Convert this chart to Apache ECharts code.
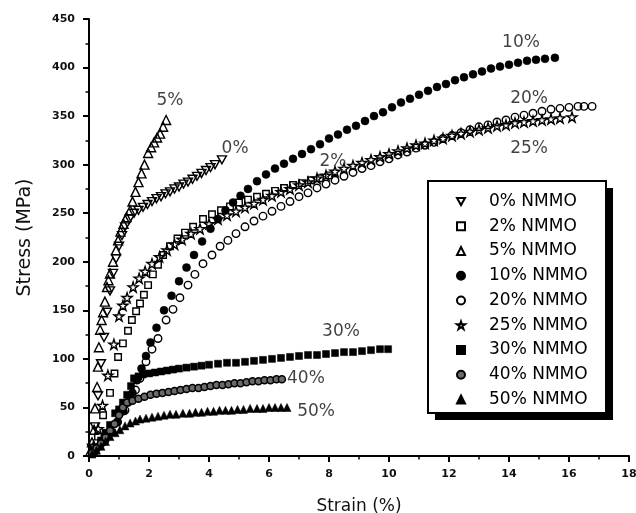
<!DOCTYPE html>
<html>
<head>
<meta charset="utf-8">
<script src="https://cdn.jsdelivr.net/npm/echarts@6/dist/echarts.min.js"></script>
<style>
  html, body { margin: 0; padding: 0; background: #fff; }
  #chart { width: 636px; height: 513px; }
</style>
</head>
<body>
<div id="chart"></div>
<script>
// Stress–strain curves of films with different NMMO contents
const strain0 = [0.1,0.2,0.3,0.4,0.5,0.6,0.7,0.8,0.9,1.0,1.1,1.2,1.35,1.5,1.65,1.8,1.95,2.1,2.25,2.4,2.55,2.7,2.85,3.0,3.15,3.3,3.45,3.6,3.75,3.9,4.05,4.2,4.43];
const stress0 = [8,30,62,95,122,148,170,188,203,216,227,236,244,250,253,256,259,262,265,267,270,272,275,277,280,282,285,288,291,294,297,300,305];

const strain2 = [0.15,0.3,0.47,0.7,0.85,0.97,1.13,1.3,1.43,1.57,1.7,1.83,1.97,2.13,2.3,2.47,2.7,2.95,3.2,3.47,3.8,4.1,4.4,4.7,5.0,5.3,5.6,5.9,6.2,6.5,6.8,7.1,7.4,7.7,8.0];
const stress2 = [5,20,42,65,85,102,116,129,140,149,157,166,176,187,197,207,216,224,230,236,244,249,253,257,261,264,267,270,273,276,279,281,284,286,289];

const strain5 = [0.05,0.1,0.17,0.2,0.27,0.3,0.33,0.37,0.42,0.47,0.53,0.6,0.65,0.7,0.8,0.9,0.97,1.05,1.15,1.25,1.37,1.45,1.55,1.65,1.75,1.85,1.97,2.07,2.17,2.27,2.37,2.47,2.57];
const stress5 = [5,14,27,49,71,92,112,130,140,148,159,174,181,188,200,212,222,231,239,246,253,262,272,282,291,300,312,318,323,328,332,339,346];

const strain10 = [0.15,0.35,0.55,0.75,0.95,1.15,1.3,1.45,1.6,1.75,1.9,2.05,2.25,2.5,2.75,3.0,3.25,3.5,3.77,4.05,4.3,4.55,4.8,5.05,5.3,5.6,5.9,6.2,6.5,6.8,7.1,7.4,7.7,8.0,8.3,8.6,8.9,9.2,9.5,9.8,10.1,10.4,10.7,11.0,11.3,11.6,11.9,12.2,12.5,12.8,13.1,13.4,13.7,14.0,14.3,14.6,14.9,15.2,15.53];
const stress10 = [4,10,17,25,35,46,55,65,78,90,103,117,132,150,165,180,194,207,221,234,244,253,261,268,275,283,290,296,301,306,311,316,321,327,331,336,340,345,350,354,359,364,368,372,376,380,383,387,390,393,396,399,401,403,405,407,408,409,410];

const strain20 = [0.2,0.45,0.7,0.95,1.2,1.4,1.55,1.7,1.9,2.1,2.3,2.57,2.8,3.03,3.3,3.53,3.8,4.1,4.37,4.63,4.9,5.2,5.5,5.8,6.1,6.4,6.7,7.0,7.3,7.6,7.9,8.2,8.5,8.8,9.1,9.4,9.7,10.0,10.3,10.6,10.9,11.2,11.5,11.8,12.1,12.4,12.7,13.0,13.3,13.6,13.9,14.2,14.5,14.8,15.1,15.4,15.7,16.0,16.3,16.5,16.77];
const stress20 = [5,14,24,35,47,58,68,80,97,110,121,140,151,163,176,187,198,207,216,222,229,236,242,247,252,257,262,267,271,276,280,284,288,292,296,299,303,306,310,313,317,320,323,327,330,333,336,339,341,344,346,349,351,353,355,357,358,359,360,360,360];

const strain25 = [0.15,0.3,0.45,0.63,0.83,1.0,1.13,1.27,1.47,1.67,1.87,2.1,2.35,2.6,2.85,3.1,3.4,3.7,4.0,4.3,4.6,4.9,5.2,5.5,5.8,6.1,6.4,6.7,7.0,7.3,7.6,7.9,8.2,8.5,8.8,9.1,9.4,9.7,10.0,10.3,10.6,10.9,11.2,11.5,11.8,12.1,12.4,12.7,13.0,13.3,13.6,13.9,14.2,14.5,14.8,15.1,15.4,15.7,16.1];
const stress25 = [10,28,52,83,115,144,155,163,174,183,190,198,205,212,218,223,229,234,239,244,248,252,256,260,264,268,272,275,279,282,286,289,293,296,299,302,305,308,311,314,317,320,322,325,327,330,332,334,336,338,340,341,343,344,345,346,347,348,349];

const strain30 = [0.1,0.25,0.4,0.55,0.7,0.87,1.0,1.13,1.27,1.4,1.5,1.65,1.8,2.0,2.2,2.4,2.6,2.8,3.0,3.25,3.5,3.75,4.0,4.3,4.6,4.9,5.2,5.5,5.8,6.1,6.4,6.7,7.0,7.3,7.6,7.9,8.2,8.5,8.8,9.1,9.4,9.7,9.97];
const stress30 = [3,9,16,24,32,44,48,55,63,72,80,82,84,85,86,87,88,89,90,91,92,93,94,95,96,96,97,98,99,100,101,102,103,104,104,105,106,107,107,108,109,110,110];

const strain40 = [0.1,0.25,0.4,0.55,0.7,0.85,1.0,1.13,1.27,1.45,1.65,1.85,2.05,2.25,2.45,2.65,2.85,3.05,3.25,3.45,3.65,3.85,4.05,4.25,4.45,4.65,4.85,5.05,5.25,5.45,5.65,5.85,6.05,6.25,6.43];
const stress40 = [3,8,13,19,26,33,42,50,55,57,59,61,63,64,65,66,67,68,69,70,70,71,72,73,73,74,75,75,76,77,77,78,78,79,79];

const strain50 = [0.1,0.25,0.4,0.55,0.7,0.87,1.03,1.2,1.37,1.55,1.7,1.9,2.1,2.3,2.5,2.7,2.9,3.13,3.35,3.55,3.75,3.95,4.15,4.35,4.55,4.75,4.95,5.15,5.37,5.6,5.8,6.0,6.2,6.4,6.6];
const stress50 = [2,6,10,15,20,24,27,31,34,36,38,39,40,41,42,43,43,44,44,45,45,46,46,47,47,47,48,48,49,49,49,50,50,50,50];

// Curve annotations placed in data coordinates
const curveLabels = ['5%','0%','10%','20%','25%','2%','30%','40%','50%'];
const curveLabelStrain = [2.7,4.87,14.4,14.67,14.67,8.13,8.4,7.23,7.57];
const curveLabelStress = [366,317,426,368,317,303,128,80,46];

const seriesNames = ['0% NMMO','2% NMMO','5% NMMO','10% NMMO','20% NMMO','25% NMMO','30% NMMO','40% NMMO','50% NMMO'];

const xTicks = { min: 0, max: 18, step: 2 };
const yTicks = { min: 0, max: 450, step: 50 };

const FONT = 'DejaVu Sans';
const STAR = 'path://M50,2 L61.8,37.6 L99,37.6 L68.9,59.6 L80.3,95 L50,73.1 L19.7,95 L31.1,59.6 L1,37.6 L38.2,37.6 Z';
const DOWN_TRIANGLE = 'path://M0,0 L100,0 L50,90 Z';

const hollow = { color: 'rgba(255,255,255,0)', borderColor: '#000', borderWidth: 1.4, opacity: 1 };
const solid = { color: '#000', borderColor: '#000', borderWidth: 0.5, opacity: 1 };

function pairs(xs, ys) { return xs.map((x, i) => [x, ys[i]]); }

const curves = [
  { x: strain0, y: stress0, symbol: DOWN_TRIANGLE, size: [9, 8], style: hollow },
  { x: strain2, y: stress2, symbol: 'rect', size: 6.5, style: hollow },
  { x: strain5, y: stress5, symbol: 'triangle', size: 9, style: hollow },
  { x: strain10, y: stress10, symbol: 'circle', size: 8, style: solid },
  { x: strain20, y: stress20, symbol: 'circle', size: 7.5, style: hollow },
  { x: strain25, y: stress25, symbol: STAR, size: 10, style: hollow },
  { x: strain30, y: stress30, symbol: 'rect', size: 7, style: solid },
  { x: strain40, y: stress40, symbol: 'circle', size: 7, style: { color: '#6a6a6a', borderColor: '#000', borderWidth: 1.5, opacity: 1 } },
  { x: strain50, y: stress50, symbol: 'triangle', size: 8, style: solid }
];

const series = curves.map((c, i) => ({
  name: seriesNames[i],
  type: 'scatter',
  symbol: c.symbol,
  symbolSize: c.size,
  symbolKeepAspect: false,
  itemStyle: c.style,
  silent: true,
  data: pairs(c.x, c.y)
}));

series.push({
  name: 'curve labels',
  type: 'scatter',
  symbolSize: 0,
  silent: true,
  data: curveLabels.map((t, i) => ({ name: t, value: [curveLabelStrain[i], curveLabelStress[i]] })),
  label: {
    show: true,
    position: 'inside',
    formatter: '{b}',
    fontFamily: FONT,
    fontSize: 17,
    color: '#111'
  }
});

const axisCommon = {
  type: 'value',
  nameLocation: 'middle',
  nameTextStyle: { fontFamily: FONT, fontSize: 17, color: '#111' },
  axisLine: { show: true, lineStyle: { color: '#000', width: 2 } },
  axisTick: { show: true, length: 6, lineStyle: { color: '#000', width: 2 } },
  minorTick: { show: true, splitNumber: 2, length: 3.5, lineStyle: { color: '#000', width: 1.5 } },
  splitLine: { show: false },
  axisLabel: { fontFamily: FONT, fontSize: 11, fontWeight: 'bold', color: '#111' }
};

// Legend frame with a solid drop shadow
const legendBox = { x: 428, y: 181, w: 178, h: 232, shadow: 7 };

const chart = echarts.init(document.getElementById('chart'), null, { renderer: 'canvas' });
chart.setOption({
  animation: false,
  backgroundColor: '#fff',
  grid: { left: 89, right: 7, top: 19, bottom: 57, containLabel: false, outerBoundsMode: 'none' },
  xAxis: Object.assign({}, axisCommon, {
    name: 'Strain (%)',
    nameGap: 42,
    nameMoveOverlap: false,
    min: xTicks.min, max: xTicks.max, interval: xTicks.step,
    axisLabel: Object.assign({}, axisCommon.axisLabel, { margin: 13 })
  }),
  yAxis: Object.assign({}, axisCommon, {
    name: 'Stress (MPa)',
    nameGap: 54,
    nameMoveOverlap: false,
    nameTextStyle: { fontFamily: FONT, fontSize: 19, color: '#111' },
    min: yTicks.min, max: yTicks.max, interval: yTicks.step,
    axisLabel: Object.assign({}, axisCommon.axisLabel, { margin: 14 })
  }),
  graphic: [
    {
      type: 'rect', z: 3, silent: true,
      shape: { x: legendBox.x + legendBox.shadow, y: legendBox.y + legendBox.shadow, width: legendBox.w, height: legendBox.h },
      style: { fill: '#000' }
    },
    {
      type: 'rect', z: 4, silent: true,
      shape: { x: legendBox.x, y: legendBox.y, width: legendBox.w, height: legendBox.h },
      style: { fill: '#fff', stroke: '#000', lineWidth: 2 }
    }
  ],
  legend: {
    data: seriesNames,
    z: 10,
    orient: 'vertical',
    left: legendBox.x,
    top: legendBox.y,
    padding: [12, 22, 8, 28],
    itemWidth: 8,
    itemHeight: 8,
    itemGap: 7.75,
    selectedMode: false,
    textStyle: {
      fontFamily: FONT,
      fontSize: 17,
      color: '#000',
      padding: [0, 0, 0, 19]
    }
  },
  series: series
});
</script>
</body>
</html>
